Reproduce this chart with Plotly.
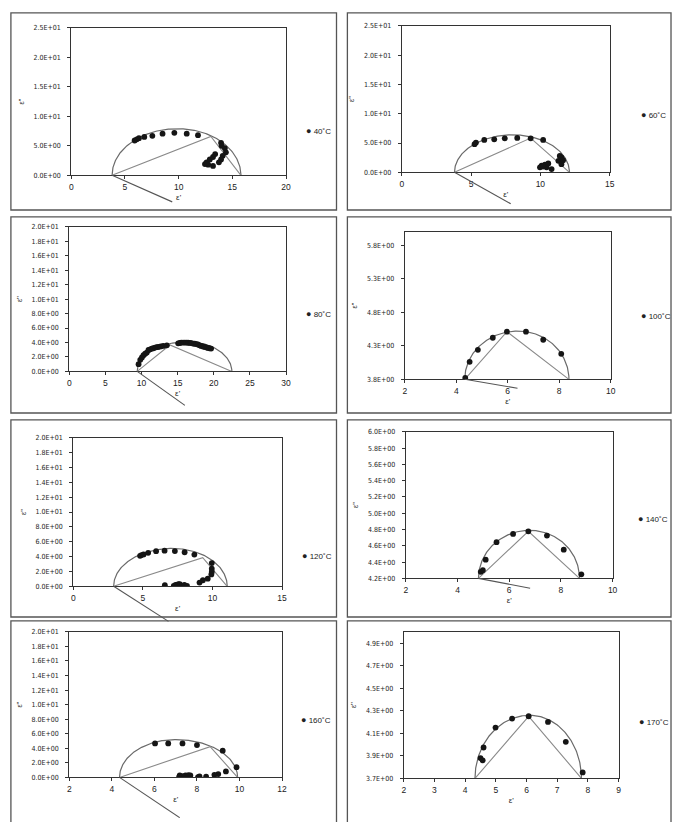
import numpy as np
import plotly.graph_objects as go

W, H = 677, 822

# ---------------- measured permittivity (ε', ε'') per temperature ----------------
eps1_40 = [5.9, 6.1, 6.3, 6.8, 7.55, 8.5, 9.6, 10.75, 11.8, 13.95, 14.0, 14.3, 14.4,
           14.1, 13.95, 13.75, 13.2, 12.75, 12.45, 12.6, 12.9, 13.2, 13.4]
eps2_40 = [5.9, 6.1, 6.3, 6.5, 6.7, 7.05, 7.2, 7.05, 6.8, 5.5, 5.0, 4.6, 3.9,
           3.3, 2.7, 2.2, 1.6, 1.8, 1.9, 2.2, 2.7, 3.1, 3.6]

eps1_60 = [5.25, 5.35, 5.95, 6.67, 7.43, 8.33, 9.3, 10.2, 11.4, 11.52, 11.3, 11.64,
           11.52, 10.09, 9.97, 10.33, 10.57, 10.81, 10.45, 10.2]
eps2_60 = [4.8, 5.08, 5.53, 5.64, 5.81, 5.87, 5.81, 5.53, 2.8, 2.54, 1.97, 2.08,
           1.4, 1.13, 0.85, 1.3, 1.52, 0.56, 0.85, 1.0]

eps1_80 = [9.59, 9.82, 10.05, 10.27, 10.5, 10.73, 10.96, 11.2, 11.42, 11.64, 11.87, 12.1,
           12.33, 12.65, 13.0, 13.5, 15.07, 15.3, 15.5, 15.75, 15.98, 16.2, 16.44, 16.7,
           16.9, 17.12, 17.35, 17.6, 17.8, 18.04, 18.26, 18.5, 18.72, 18.95, 19.18, 19.4, 19.63]
eps2_80 = [1.0, 1.6, 1.92, 2.24, 2.45, 2.6, 2.97, 3.05, 3.16, 3.2, 3.3, 3.35,
           3.39, 3.45, 3.52, 3.6, 3.88, 3.93, 3.98, 3.98, 3.98, 3.98, 3.96, 3.94,
           3.92, 3.85, 3.82, 3.78, 3.72, 3.6, 3.52, 3.46, 3.39, 3.33, 3.25, 3.2, 3.16]

eps1_100 = [4.35, 4.52, 4.84, 5.42, 5.97, 6.71, 7.38, 8.08]
eps2_100 = [3.82, 4.06, 4.24, 4.42, 4.51, 4.51, 4.39, 4.18]

eps1_120 = [4.8, 4.9, 5.05, 5.38, 5.95, 6.56, 7.3, 8.0, 8.7, 9.95, 9.95, 9.95, 9.92,
            9.66, 9.31, 9.07, 6.58, 7.22, 7.35, 7.46, 7.55, 7.65, 7.82, 7.98, 8.17]
eps2_120 = [4.1, 4.2, 4.29, 4.51, 4.73, 4.8, 4.74, 4.58, 4.27, 3.13, 2.37, 1.93, 1.6,
            1.03, 0.81, 0.5, 0.14, 0.05, 0.2, 0.18, 0.3, 0.27, 0.05, 0.18, 0.05]

eps1_140 = [4.9, 4.98, 5.09, 5.51, 6.15, 6.74, 7.46, 8.11, 8.79]
eps2_140 = [4.28, 4.3, 4.43, 4.645, 4.746, 4.778, 4.726, 4.552, 4.249]

eps1_160 = [6.03, 6.65, 7.32, 8.0, 9.21, 9.86, 9.36, 9.0, 8.82, 8.43, 8.12, 8.05,
            7.69, 7.58, 7.46, 7.32, 7.19, 7.16, 7.4, 7.6]
eps2_160 = [4.67, 4.67, 4.67, 4.44, 3.67, 1.41, 0.82, 0.45, 0.36, 0.09, 0.14, 0.05,
            0.27, 0.14, 0.27, 0.18, 0.27, 0.05, 0.05, 0.3]

eps1_170 = [4.5, 4.57, 4.6, 4.99, 5.53, 6.07, 6.7, 7.28, 7.83]
eps2_170 = [3.88, 3.86, 3.974, 4.151, 4.231, 4.251, 4.201, 4.024, 3.753]

temperature_labels = ["40˚C", "60˚C", "80˚C", "100˚C", "120˚C", "140˚C", "160˚C", "170˚C"]

# Cole-Cole construction: arc intercepts, arc apex, chord vertex, depression-line end
fit_40 = dict(base=0.0, left=3.8, right=15.8, apex_x=9.9, apex_y=7.9, vertex=(13.0, 6.6), tail=(9.4, -4.5))
fit_60 = dict(base=0.0, left=3.8, right=12.1, apex_x=8.0, apex_y=6.4, vertex=(9.3, 5.85), tail=(7.86, -5.36))
fit_80 = dict(base=0.0, left=9.4, right=22.5, apex_x=16.3, apex_y=4.1, vertex=(13.93, 3.65), tail=(16.0, -4.7))
fit_100 = dict(base=3.8, left=4.33, right=8.38, apex_x=6.4, apex_y=4.52, vertex=(5.97, 4.51), tail=(6.38, 3.667))
fit_120 = dict(base=0.0, left=2.9, right=11.06, apex_x=7.1, apex_y=5.1, vertex=(9.3, 3.85), tail=(6.84, -4.73))
fit_140 = dict(base=4.2, left=4.81, right=8.72, apex_x=6.8, apex_y=4.79, vertex=(6.74, 4.778), tail=(6.81, 4.079))
fit_160 = dict(base=0.0, left=4.36, right=9.91, apex_x=7.0, apex_y=5.2, vertex=(8.62, 4.22), tail=(7.19, -5.53))
fit_170 = dict(base=3.7, left=4.32, right=7.79, apex_x=6.1, apex_y=4.26, vertex=(6.07, 4.251), tail=None)

# axis ticks
x_range_40, x_dtick_40 = [0, 20], 5
x_range_60, x_dtick_60 = [0, 15], 5
x_range_80, x_dtick_80 = [0, 30], 5
x_range_100, x_dtick_100 = [2, 10], 2
x_range_120, x_dtick_120 = [0, 15], 5
x_range_140, x_dtick_140 = [2, 10], 2
x_range_160, x_dtick_160 = [2, 12], 2
x_range_170, x_dtick_170 = [2, 9], 1

y_ticks_25 = [0, 5, 10, 15, 20, 25]
y_text_25 = ["0.0E+00", "5.0E+00", "1.0E+01", "1.5E+01", "2.0E+01", "2.5E+01"]
y_ticks_20 = [0, 2, 4, 6, 8, 10, 12, 14, 16, 18, 20]
y_text_20 = ["0.0E+00", "2.0E+00", "4.0E+00", "6.0E+00", "8.0E+00", "1.0E+01",
             "1.2E+01", "1.4E+01", "1.6E+01", "1.8E+01", "2.0E+01"]
y_ticks_100 = [3.8, 4.3, 4.8, 5.3, 5.8]
y_text_100 = ["3.8E+00", "4.3E+00", "4.8E+00", "5.3E+00", "5.8E+00"]
y_ticks_140 = [4.2, 4.4, 4.6, 4.8, 5.0, 5.2, 5.4, 5.6, 5.8, 6.0]
y_text_140 = ["4.2E+00", "4.4E+00", "4.6E+00", "4.8E+00", "5.0E+00", "5.2E+00",
              "5.4E+00", "5.6E+00", "5.8E+00", "6.0E+00"]
y_ticks_170 = [3.7, 3.9, 4.1, 4.3, 4.5, 4.7, 4.9]
y_text_170 = ["3.7E+00", "3.9E+00", "4.1E+00", "4.3E+00", "4.5E+00", "4.7E+00", "4.9E+00"]

panels = [
    dict(e1=eps1_40, e2=eps2_40, fit=fit_40, xr=x_range_40, dx=x_dtick_40, yr=[0, 25], yt=y_ticks_25, ytx=y_text_25),
    dict(e1=eps1_60, e2=eps2_60, fit=fit_60, xr=x_range_60, dx=x_dtick_60, yr=[0, 25], yt=y_ticks_25, ytx=y_text_25),
    dict(e1=eps1_80, e2=eps2_80, fit=fit_80, xr=x_range_80, dx=x_dtick_80, yr=[0, 20], yt=y_ticks_20, ytx=y_text_20),
    dict(e1=eps1_100, e2=eps2_100, fit=fit_100, xr=x_range_100, dx=x_dtick_100, yr=[3.8, 6.0], yt=y_ticks_100, ytx=y_text_100),
    dict(e1=eps1_120, e2=eps2_120, fit=fit_120, xr=x_range_120, dx=x_dtick_120, yr=[0, 20], yt=y_ticks_20, ytx=y_text_20),
    dict(e1=eps1_140, e2=eps2_140, fit=fit_140, xr=x_range_140, dx=x_dtick_140, yr=[4.2, 6.0], yt=y_ticks_140, ytx=y_text_140),
    dict(e1=eps1_160, e2=eps2_160, fit=fit_160, xr=x_range_160, dx=x_dtick_160, yr=[0, 20], yt=y_ticks_20, ytx=y_text_20),
    dict(e1=eps1_170, e2=eps2_170, fit=fit_170, xr=x_range_170, dx=x_dtick_170, yr=[3.7, 5.0], yt=y_ticks_170, ytx=y_text_170),
]

# ---------------- page geometry (pixels) ----------------
plot_boxes = [  # left, right, top, bottom of each plot area
    (70, 287, 24, 173), (404, 614, 22, 170),
    (68, 287, 225, 371), (407, 615, 230, 379),
    (72, 283, 438, 588), (408, 617, 432, 580),
    (68, 283, 634, 781), (406, 623, 634, 782),
]
tail_floor = [207, 207, 408, 410, 625, 612, 822, 822]   # lowest pixel a depression line may reach
key_pos = [(305, 128), (644, 112), (305, 313), (644, 315), (301, 557), (641, 520), (300, 723), (642, 725)]
frames = [  # panel borders
    (9, 338, 9, 208), (349, 676, 9, 208),
    (9, 338, 215, 413), (349, 676, 215, 413),
    (9, 338, 420, 619), (349, 676, 420, 619),
    (9, 338, 623, 830), (349, 676, 623, 830),
]

AXIS_C = "#333333"
ARC_C = "#6a6a6a"
CHORD_C = "#8a8a8a"
PT_C = "#151515"


def cole_cole_arc(f, n=90):
    """Depressed-semicircle fit drawn as two quarter ellipses meeting at the apex."""
    t = np.linspace(np.pi, np.pi / 2, n)
    xl = f["apex_x"] + (f["apex_x"] - f["left"]) * np.cos(t)
    yl = f["base"] + (f["apex_y"] - f["base"]) * np.sin(t)
    t2 = np.linspace(np.pi / 2, 0, n)
    xr = f["apex_x"] + (f["right"] - f["apex_x"]) * np.cos(t2)
    yr = f["base"] + (f["apex_y"] - f["base"]) * np.sin(t2)
    return np.concatenate([xl, xr[1:]]), np.concatenate([yl, yr[1:]])


fig = go.Figure()
layout = dict(
    width=W, height=H, margin=dict(l=0, r=0, t=0, b=0),
    paper_bgcolor="white", plot_bgcolor="rgba(0,0,0,0)",
    font=dict(family="Liberation Sans, Arial, sans-serif", color="#222222"),
    showlegend=False, shapes=[], annotations=[],
)

for i, (p, box) in enumerate(zip(panels, plot_boxes), start=1):
    f = p["fit"]
    xa, ya = f"x{i}", f"y{i}"
    l, r, t, b = box

    ax_x, ax_y = cole_cole_arc(f)
    fig.add_trace(go.Scatter(x=ax_x, y=ax_y, mode="lines", line=dict(color=ARC_C, width=1.2),
                             xaxis=xa, yaxis=ya, hoverinfo="skip"))
    vx, vy = f["vertex"]
    fig.add_trace(go.Scatter(x=[f["left"], vx, f["right"]], y=[f["base"], vy, f["base"]], mode="lines",
                             line=dict(color=CHORD_C, width=1.1), xaxis=xa, yaxis=ya, hoverinfo="skip"))
    fig.add_trace(go.Scatter(x=p["e1"], y=p["e2"], mode="markers", name=temperature_labels[i - 1],
                             marker=dict(color=PT_C, size=5.8), xaxis=xa, yaxis=ya))

    xkey = "xaxis" if i == 1 else f"xaxis{i}"
    ykey = "yaxis" if i == 1 else f"yaxis{i}"
    layout[xkey] = dict(
        domain=[l / W, r / W], range=p["xr"], tick0=p["xr"][0], dtick=p["dx"], anchor=ya,
        showline=True, mirror=True, linecolor=AXIS_C, linewidth=1.2,
        ticks="outside", ticklen=3, tickcolor=AXIS_C, showgrid=False, zeroline=False,
        tickfont=dict(size=8.5, color="#222222"),
        title=dict(text="ε'", font=dict(size=8), standoff=3),
    )
    layout[ykey] = dict(
        domain=[1 - b / H, 1 - t / H], range=p["yr"], tickvals=p["yt"], ticktext=p["ytx"], anchor=xa,
        showline=True, mirror=True, linecolor=AXIS_C, linewidth=1.2,
        ticks="outside", ticklen=3, tickcolor=AXIS_C, showgrid=False, zeroline=False,
        tickfont=dict(size=7, family="Liberation Sans Narrow, DejaVu Sans Condensed, Liberation Sans",
                      color="#1e1e1e"),
        ticklabelstandoff=5,
        title=dict(text="ε''", font=dict(size=7), standoff=8),
    )

    # depression-angle line, on a hidden y axis that continues the scale below the plot area
    if f["tail"] is not None:
        j = 8 + i
        y0, y1 = p["yr"]
        floor = tail_floor[i - 1]
        y_low = y0 - (floor - b) / (b - t) * (y1 - y0)
        layout[f"yaxis{j}"] = dict(domain=[1 - floor / H, 1 - t / H], range=[y_low, y1],
                                   anchor=xa, visible=False, showgrid=False, zeroline=False)
        tx, ty = f["tail"]
        fig.add_trace(go.Scatter(x=[f["left"], tx], y=[f["base"], ty], mode="lines",
                                 line=dict(color="#555555", width=1.1), xaxis=xa, yaxis=f"y{j}",
                                 hoverinfo="skip"))

    # series key beside each plot
    kx, ky = key_pos[i - 1]
    layout["annotations"].append(dict(
        xref="paper", yref="paper", x=kx / W, y=1 - ky / H, xanchor="left", yanchor="middle",
        showarrow=False, text="<span style='font-size:9px'>●</span> " + temperature_labels[i - 1],
        font=dict(size=8, color="#222222")))

for (l, r, t, b) in frames:
    layout["shapes"].append(dict(type="rect", xref="paper", yref="paper",
                                 x0=l / W, x1=r / W, y0=1 - b / H, y1=1 - t / H,
                                 line=dict(color="#555555", width=1.3), fillcolor="rgba(0,0,0,0)"))

fig.update_layout(**layout)
fig.write_html("out.html")
